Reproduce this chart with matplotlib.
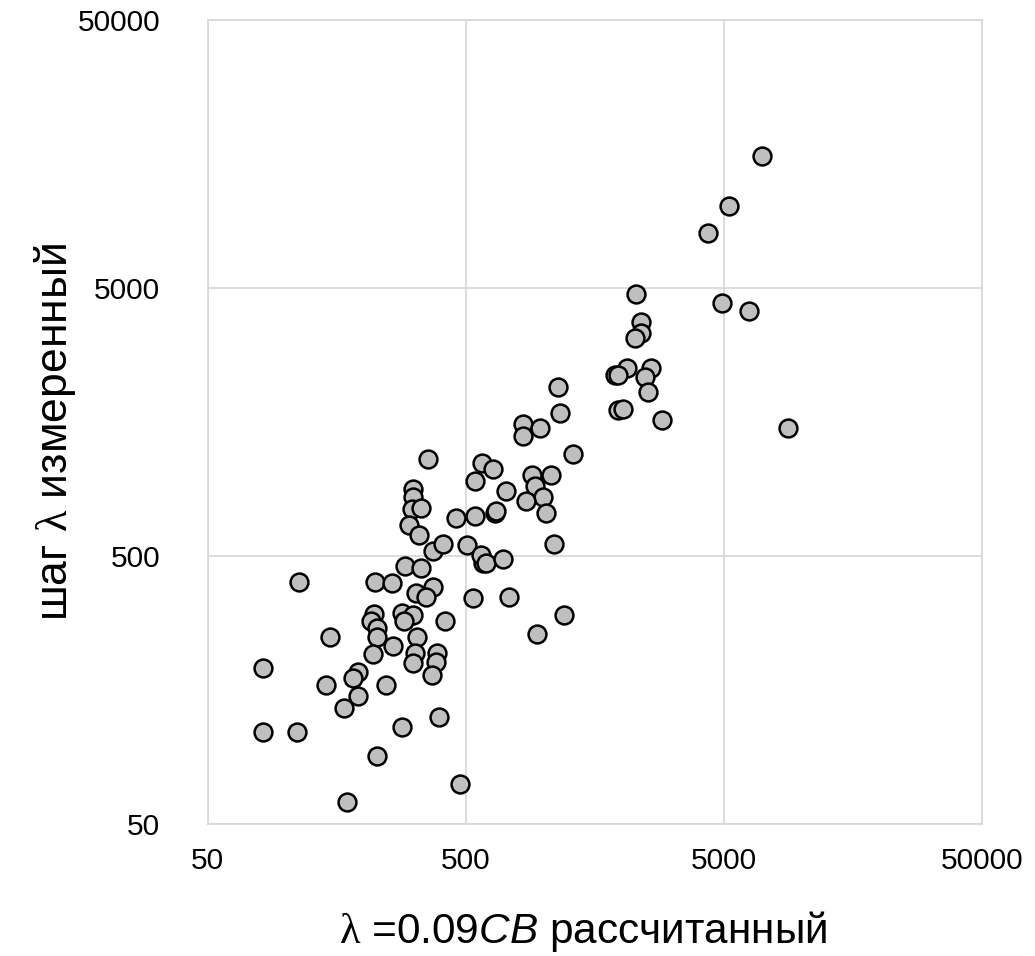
import numpy as np
import matplotlib
matplotlib.use("Agg")
import matplotlib.pyplot as plt

plt.rcParams['font.family'] = ['Liberation Sans', 'DejaVu Sans']
plt.rcParams['mathtext.fontset'] = 'custom'
plt.rcParams['mathtext.rm'] = 'Liberation Serif'
plt.rcParams['mathtext.it'] = 'Liberation Sans:italic'

# lambda = 0.09CB calculated (x) vs measured step lambda (y)
calc = [
    299, 375, 392, 405, 421, 433, 416, 426, 473, 483,
    330, 374, 371, 377, 377, 402, 413, 404, 445, 417,
    393, 373, 415, 413, 437, 436, 432, 263, 358, 353,
    326, 386, 358, 344, 263, 297, 402, 439, 377, 460,
    347, 428, 413, 413, 412, 421, 409, 419, 433, 443,
    456, 475, 482, 493, 475, 495, 506, 467, 481, 486,
    503, 509, 523, 523, 558, 560, 540, 573, 532, 551,
    535, 543, 526, 546, 554, 564, 537, 615, 618, 762,
    729, 708, 636, 722, 749, 641, 641, 635, 627, 618,
    651, 645, 648, 623, 662, 788, 496,
]
meas = [
    582, 582, 583, 566, 568, 587, 593, 597, 598, 563,
    637, 614, 621, 628, 637, 613, 615, 621, 621, 637,
    646, 654, 653, 663, 653, 662, 675, 668, 672, 678,
    685, 685, 696, 708, 732, 732, 727, 717, 756, 784,
    802, 459, 489, 497, 509, 508, 525, 535, 551, 544,
    518, 481, 463, 469, 516, 513, 491, 545, 555, 563,
    559, 597, 424, 436, 387, 413, 428, 454, 475, 475,
    486, 497, 501, 513, 544, 615, 634, 375, 410, 156,
    206, 233, 294, 303, 311, 322, 333, 338, 368, 375,
    368, 377, 392, 409, 420, 428, 511,
]

# values above are pixel readings; convert to data units via the log axes
x0, xdec = 207.5, 258.2
y0, ydec = 823.7, 268.0
x_vals = 50 * 10 ** ((np.array(calc) - x0) / xdec)
y_vals = 50 * 10 ** ((y0 - np.array(meas)) / ydec)

ticks = [50, 500, 5000, 50000]
tick_labels = ['50', '500', '5000', '50000']

fig = plt.figure(figsize=(10.35, 9.56), dpi=100)
ax = fig.add_axes([0.2005, 0.1384, 0.7483, 0.841])

ax.scatter(x_vals, y_vals, s=165, facecolor='#bfbfbf', edgecolor='black',
           linewidth=1.8, zorder=3)

ax.set_xscale('log')
ax.set_yscale('log')
ax.set_xlim(50, 50000)
ax.set_ylim(50, 50000)
ax.set_xticks(ticks)
ax.set_xticklabels(tick_labels)
ax.set_yticks(ticks)
ax.set_yticklabels(tick_labels)
ax.minorticks_off()
ax.tick_params(length=0, labelsize=21.5)
ax.tick_params(axis='x', pad=17)
ax.tick_params(axis='y', pad=34)
ax.grid(True, color='#d9d9d9', linewidth=1.3, zorder=0)
for sp in ax.spines.values():
    sp.set_color('#d9d9d9')
    sp.set_linewidth(1.3)

ax.set_xlabel(r'$\mathrm{\lambda}$ =0.09$\mathit{CB}$ рассчитанный', fontsize=30.5,
              va='baseline')
ax.xaxis.set_label_coords(0.4855, -0.1484)
ax.set_ylabel(r'шаг $\mathrm{\lambda}$ измеренный', fontsize=32, va='center')
ax.yaxis.set_label_coords(-0.197, 0.487)

fig.savefig('out.png', dpi=100, facecolor='white')
